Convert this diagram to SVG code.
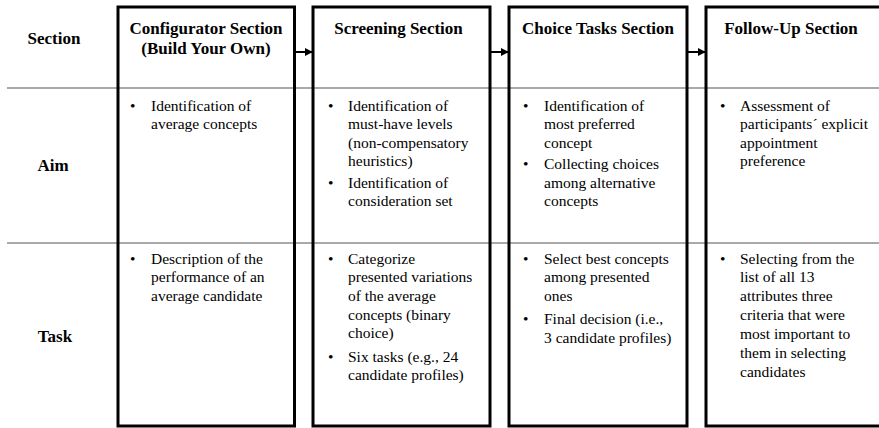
<svg xmlns="http://www.w3.org/2000/svg" width="879" height="428" viewBox="0 0 879 428" font-family="'Liberation Serif', 'Times New Roman', serif">
<style>
  .hd { font-weight: bold; font-size: 17px; fill: #000; }
  .tx { font-size: 15.5px; fill: #000; }
  .box { fill: none; stroke: #000; stroke-width: 3; }
  .rule { stroke: #8c8c8c; stroke-width: 1.5; }
  .arrow { stroke: #000; stroke-width: 2; fill: none; marker-end: url(#ah); }
</style>
<defs>
  <marker id="ah" viewBox="0 0 10 10" refX="9" refY="5" markerWidth="4" markerHeight="4" markerUnits="strokeWidth" orient="auto">
    <path d="M0,0 L10,5 L0,10 z" fill="#000"/>
  </marker>
</defs>
<rect width="879" height="428" fill="#fff"/>
<g id="rules">
  <line class="rule" x1="7" y1="88" x2="879" y2="88"/>
  <line class="rule" x1="7" y1="243" x2="879" y2="243"/>
</g>
<g id="row-labels">
  <text class="hd" x="54" y="44" text-anchor="middle">Section</text>
  <text class="hd" x="53" y="171" text-anchor="middle">Aim</text>
  <text class="hd" x="55" y="342" text-anchor="middle">Task</text>
</g>
<g id="connectors">
  <line class="arrow" x1="295" y1="52" x2="312" y2="52"/>
  <line class="arrow" x1="491" y1="52" x2="508" y2="52"/>
  <line class="arrow" x1="688" y1="52" x2="705" y2="52"/>
</g>
<g id="configurator">
  <rect class="box" x="118" y="7" width="176.5" height="419"/>
  <text class="hd" x="206" y="34" text-anchor="middle">Configurator Section</text>
  <text class="hd" x="206" y="54" text-anchor="middle">(Build Your Own)</text>
  <text class="tx" x="130" y="110.5">•</text>
  <text class="tx" x="151" y="110.5">Identification of</text>
  <text class="tx" x="151" y="129">average concepts</text>
  <text class="tx" x="130" y="263.5">•</text>
  <text class="tx" x="151" y="263.5">Description of the</text>
  <text class="tx" x="151" y="282">performance of an</text>
  <text class="tx" x="151" y="300.5">average candidate</text>
</g>
<g id="screening">
  <rect class="box" x="313" y="7" width="177" height="419"/>
  <text class="hd" x="398.5" y="34" text-anchor="middle">Screening Section</text>
  <text class="tx" x="328" y="110.5">•</text>
  <text class="tx" x="348" y="110.5">Identification of</text>
  <text class="tx" x="348" y="129">must-have levels</text>
  <text class="tx" x="348" y="147.5">(non-compensatory</text>
  <text class="tx" x="348" y="166">heuristics)</text>
  <text class="tx" x="328" y="187.5">•</text>
  <text class="tx" x="348" y="187.5">Identification of</text>
  <text class="tx" x="348" y="206">consideration set</text>
  <text class="tx" x="328" y="263.5">•</text>
  <text class="tx" x="348" y="263.5">Categorize</text>
  <text class="tx" x="348" y="282.2">presented variations</text>
  <text class="tx" x="348" y="300.9">of the average</text>
  <text class="tx" x="348" y="319.6">concepts (binary</text>
  <text class="tx" x="348" y="338.3">choice)</text>
  <text class="tx" x="328" y="361.5">•</text>
  <text class="tx" x="348" y="361.5">Six tasks (e.g., 24</text>
  <text class="tx" x="348" y="380.2">candidate profiles)</text>
</g>
<g id="choice-tasks">
  <rect class="box" x="509" y="7" width="178" height="419"/>
  <text class="hd" x="598" y="34" text-anchor="middle">Choice Tasks Section</text>
  <text class="tx" x="523" y="110.5">•</text>
  <text class="tx" x="544" y="110.5">Identification of</text>
  <text class="tx" x="544" y="129">most preferred</text>
  <text class="tx" x="544" y="147.5">concept</text>
  <text class="tx" x="523" y="169">•</text>
  <text class="tx" x="544" y="169">Collecting choices</text>
  <text class="tx" x="544" y="187.5">among alternative</text>
  <text class="tx" x="544" y="206">concepts</text>
  <text class="tx" x="523" y="263.5">•</text>
  <text class="tx" x="544" y="263.5">Select best concepts</text>
  <text class="tx" x="544" y="282.2">among presented</text>
  <text class="tx" x="544" y="300.9">ones</text>
  <text class="tx" x="523" y="324">•</text>
  <text class="tx" x="544" y="324">Final decision (i.e.,</text>
  <text class="tx" x="544" y="342.7">3 candidate profiles)</text>
</g>
<g id="follow-up">
  <rect class="box" x="706" y="7" width="178" height="419"/>
  <text class="hd" x="791" y="34" text-anchor="middle">Follow-Up Section</text>
  <text class="tx" x="720" y="110.5">•</text>
  <text class="tx" x="740" y="110.5">Assessment of</text>
  <text class="tx" x="740" y="129" textLength="128" lengthAdjust="spacing">participants´ explicit</text>
  <text class="tx" x="740" y="147.5">appointment</text>
  <text class="tx" x="740" y="166">preference</text>
  <text class="tx" x="720" y="263.5">•</text>
  <text class="tx" x="740" y="263.5">Selecting from the</text>
  <text class="tx" x="740" y="282.4">list of all 13</text>
  <text class="tx" x="740" y="301.3">attributes three</text>
  <text class="tx" x="740" y="320.2">criteria that were</text>
  <text class="tx" x="740" y="339.1">most important to</text>
  <text class="tx" x="740" y="358">them in selecting</text>
  <text class="tx" x="740" y="376.9">candidates</text>
</g>
</svg>
